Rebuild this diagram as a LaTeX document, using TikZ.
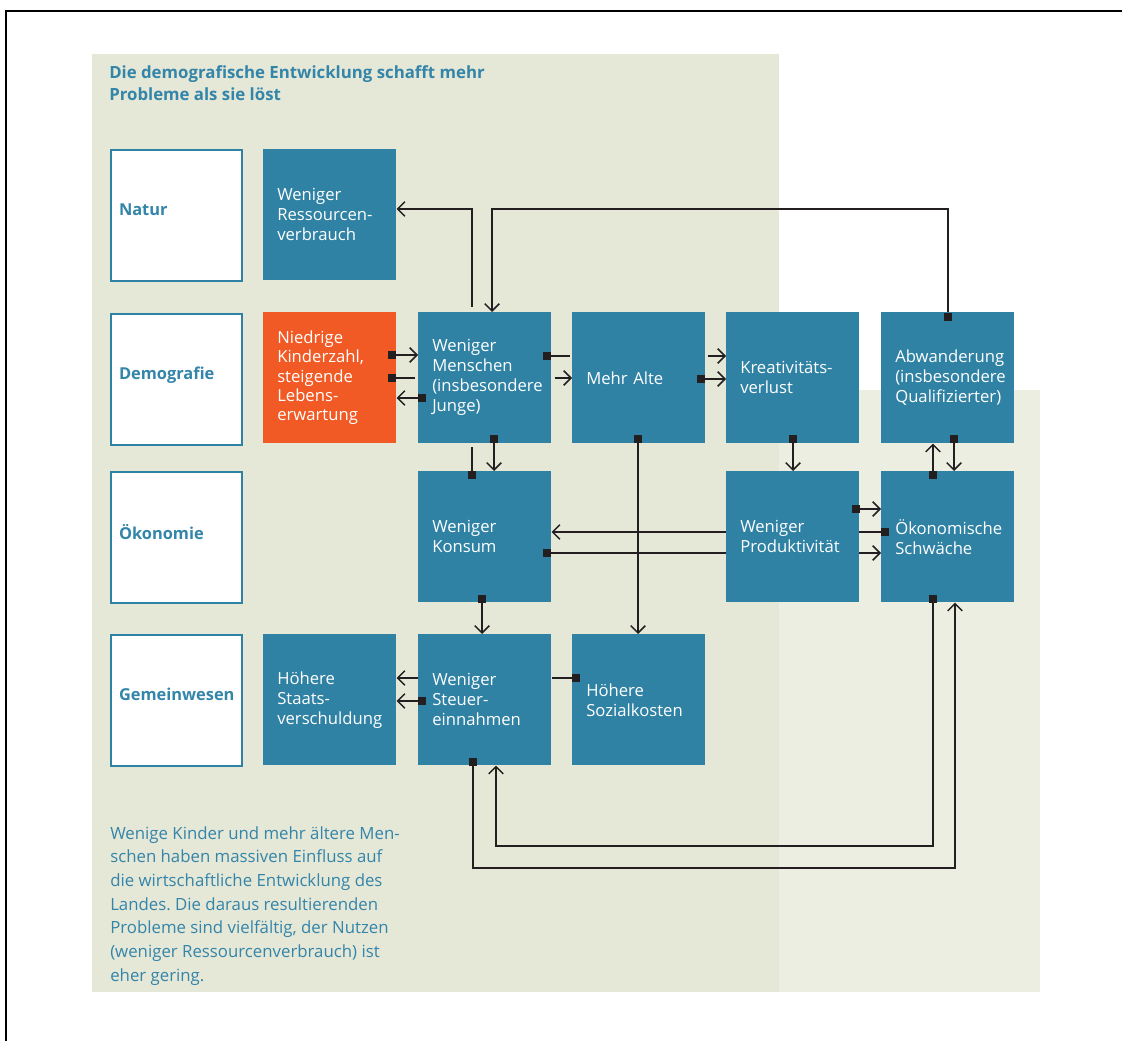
\documentclass[tikz,border=0pt]{standalone}
\usepackage{fontspec}
\setmainfont{Open Sans}
\usetikzlibrary{arrows.meta,calc}
\frenchspacing
\definecolor{panelA}{HTML}{E5E7D7}
\definecolor{panelB}{HTML}{EDEEE2}
\definecolor{boxblue}{HTML}{2F82A4}
\definecolor{inkblue}{HTML}{3385A9}
\definecolor{hot}{HTML}{F15A24}
\definecolor{ink}{HTML}{231F20}
\pgfdeclarelayer{panel}
\pgfdeclarelayer{wires}
\pgfsetlayers{panel,wires,main}
\begin{document}
\begin{tikzpicture}[x=0.75pt,y=-0.75pt,
  cell/.style={anchor=north west, fill=boxblue, text=white,
    minimum height=98.25pt, minimum width=99.75pt, text width=78.75pt,
    inner xsep=10.125pt, inner ysep=0pt, align=left,
    font=\fontsize{12.5pt}{15pt}\selectfont},
  hotcell/.style={cell, fill=hot, font=\fontsize{12.5pt}{14.5pt}\selectfont},
  rowlabel/.style={anchor=north west, draw=boxblue, line width=1.5pt,
    fill=white, text=inkblue, minimum height=98.25pt, text width=86.25pt,
    inner xsep=6pt, inner ysep=0pt, align=left, text depth=9pt,
    font=\fontsize{12.3pt}{15pt}\selectfont\bfseries},
  link/.style={draw=ink, line width=1.3pt,
    -{Straight Barb[length=5.5pt,width=11pt,line width=1.1pt]}},
  wire/.style={draw=ink, line width=1.3pt},
  src/.style={fill=ink, minimum size=6.5pt, inner sep=0pt, outer sep=0pt},
]
\useasboundingbox (0,0) rectangle (1122,1041);

% background panels and frame
\begin{pgfonlayer}{panel}
  \fill[panelA] (92,54) rectangle (779,992);
  \fill[panelB] (779,390) rectangle (1040,992);
  \draw[line width=2pt] (6,1041) -- (6,11) -- (1122,11);
\end{pgfonlayer}

% title
\node[anchor=north west, inner sep=0pt, align=left, text=inkblue,
  font=\fontsize{12.6pt}{16.5pt}\selectfont\bfseries] (title) at (109,65)
  {Die demografische Entwicklung schafft mehr\\Probleme als sie löst};

% row labels
\node[rowlabel] (natur) at (110,149) {Natur};
\node[rowlabel] (demo)  at (110,313) {Demografie};
\node[rowlabel] (oekrow) at (110,471) {Ökonomie};
\node[rowlabel] (gem)   at (110,634) {Gemeinwesen};

% effect boxes
\node[cell] (ress)     at (263,149) {Weniger\\Ressourcen-\\verbrauch};
\node[hotcell] (niedrig) at (263,312) {Niedrige\\Kinderzahl,\\steigende\\Lebens-\\erwartung};
\node[cell] (staats)   at (263,634) {Höhere\\Staats-\\verschuldung};
\node[cell] (menschen) at (418,312) {Weniger\\Menschen\\(insbesondere\\Junge)};
\node[cell] (konsum)   at (418,471) {Weniger\\Konsum};
\node[cell] (steuer)   at (418,634) {Weniger\\Steuer-\\einnahmen};
\node[cell] (alte)     at (572,312) {Mehr Alte};
\node[cell] (sozial)   at (572,634) {Höhere\\Sozialkosten};
\node[cell] (kreativ)  at (726,312) {Kreativitäts-\\verlust};
\node[cell] (produkt)  at (726,471) {Weniger\\Produktivität};
\node[cell] (abw)      at (881,312) {Abwanderung\\(insbesondere\\Qualifizierter)};
\node[cell] (oekon)    at (881,471) {Ökonomische\\Schwäche};

% source points of the connectors
\coordinate (topy) at (0,209);
\coordinate (loopA) at (0,846);
\coordinate (loopB) at (0,868);
\coordinate (q2)  at ($(abw.north west)+(67,5)$);
\coordinate (q3)  at ($(niedrig.north west)+(129,43)$);
\coordinate (q4)  at ($(niedrig.north west)+(129,66)$);
\coordinate (q5)  at ($(menschen.north west)+(4,86)$);
\coordinate (q6)  at ($(menschen.north west)+(129,44)$);
\coordinate (q9)  at ($(alte.north west)+(129,67)$);
\coordinate (q10) at ($(menschen.north west)+(76,127)$);
\coordinate (q11) at ($(konsum.north west)+(54,4)$);
\coordinate (q12) at ($(alte.north west)+(66,127)$);
\coordinate (q13) at ($(kreativ.north west)+(67,127)$);
\coordinate (q14) at ($(abw.north west)+(73,127)$);
\coordinate (q15) at ($(oekon.north west)+(52,4)$);
\coordinate (q16) at ($(produkt.north west)+(130,38)$);
\coordinate (q17) at ($(oekon.north west)+(4,61)$);
\coordinate (q18) at ($(konsum.north west)+(129,82)$);
\coordinate (q19) at ($(konsum.north west)+(64,128)$);
\coordinate (q21) at ($(steuer.north west)+(4,67)$);
\coordinate (q22) at ($(sozial.north west)+(4,44)$);
\coordinate (q23) at ($(oekon.north west)+(52,128)$);
\coordinate (q24) at ($(steuer.north west)+(55,128)$);
\coordinate (c7)  at ($(menschen.north east)+(3,66)$);
\coordinate (c8)  at ($(alte.north east)+(2,44)$);
\coordinate (c20) at ($(steuer.north west)+(0,44)$);

% connectors
\begin{pgfonlayer}{wires}
  \draw[link] ($(menschen.north west)+(54,-5)$) |- (ress.east |- topy);
  \draw[link] (q2) -- (q2 |- topy) -| ($(menschen.north west)+(74,0)$);
  \draw[link] (q3) -- (q3 -| menschen.west);
  \draw[wire] (q4) -- ($(q4 -| menschen.west)+(-3,0)$);
  \draw[link] (q5) -- (q5 -| niedrig.east);
  \draw[wire] (q6) -- ($(q6 -| alte.west)+(-2,0)$);
  \draw[link] (c7) -- (c7 -| alte.west);
  \draw[link] (c8) -- (c8 -| kreativ.west);
  \draw[link] (q9) -- (q9 -| kreativ.west);
  \draw[link] (q10) -- (q10 |- konsum.north);
  \draw[wire] (q11) -- ($(q11 |- menschen.south)+(0,3)$);
  \draw[link] (q12) -- (q12 |- sozial.north);
  \draw[link] (q13) -- (q13 |- produkt.north);
  \draw[link] (q14) -- (q14 |- oekon.north);
  \draw[link] (q15) -- (q15 |- abw.south);
  \draw[link] (q16) -- (q16 -| oekon.west);
  \draw[link] (q17) -- (q17 -| konsum.east);
  \draw[link] (q18) -- (q18 -| oekon.west);
  \draw[link] (q19) -- (q19 |- steuer.north);
  \draw[link] (c20) -- (c20 -| staats.east);
  \draw[link] (q21) -- (q21 -| staats.east);
  \draw[wire] (q22) -- (q22 -| steuer.east);
  \draw[link] (q23) -- (q23 |- loopA) -| ($(steuer.south west)+(78,0)$);
  \draw[link] (q24) -- (q24 |- loopB) -| ($(oekon.south west)+(74,0)$);
\end{pgfonlayer}

% source markers
\foreach \q in {q2,q3,q4,q5,q6,q9,q10,q11,q12,q13,q14,q15,q16,q17,q18,q19,q21,q22,q23,q24}
  \node[src] at (\q) {};

% explanatory note
\node[anchor=north west, inner sep=0pt, align=left, text=inkblue,
  font=\fontsize{12.6pt}{17.8pt}\selectfont] (note) at (110,826)
  {Wenige Kinder und mehr ältere Men-\\schen haben massiven Einfluss auf\\die wirtschaftliche Entwicklung des\\Landes. Die daraus resultierenden\\Probleme sind vielfältig, der Nutzen\\(weniger Ressourcenverbrauch) ist\\eher gering.};
\end{tikzpicture}
\end{document}
